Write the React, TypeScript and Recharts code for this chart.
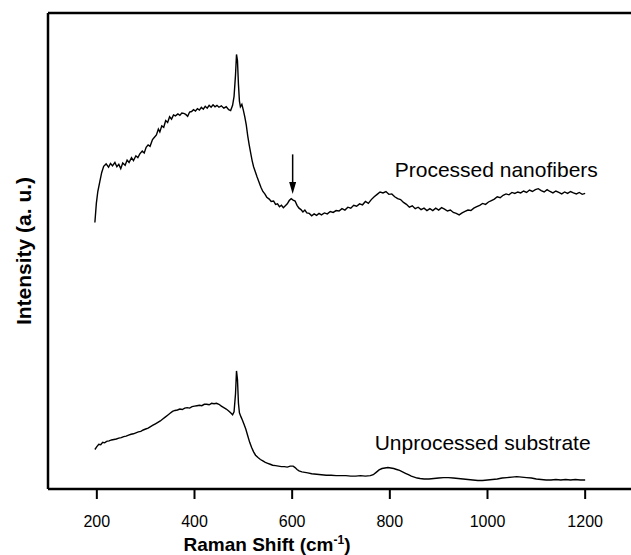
import { LineChart, Line, XAxis, YAxis, ReferenceLine, ReferenceDot, Label } from "recharts";

// Raman shift (cm^-1) and intensity (a.u., 0-100 scale)
const processedShift = [
  196, 199, 202, 206, 210, 214, 219, 224, 228, 232, 237, 241, 245, 249, 253, 258, 262, 266, 271, 275,
  280, 284, 288, 293, 297, 301, 305, 309, 314, 318, 322, 326, 329, 333, 337, 341, 345, 349, 353, 357,
  361, 366, 370, 374, 378, 382, 386, 390, 394, 398, 402, 406, 410, 414, 418, 422, 426, 430, 434, 438,
  442, 446, 450, 455, 460, 465, 470, 474, 478, 481, 484, 486, 488, 490, 492, 494, 497, 500, 503, 506,
  509, 512, 515, 518, 521, 524, 528, 532, 536, 540, 544, 548, 553, 557, 562, 566, 570, 574, 578, 582,
  586, 590, 594, 598, 602, 606, 610, 614, 618, 622, 626, 630, 635, 640, 645, 650, 655, 660, 666, 672,
  678, 684, 690, 696, 702, 708, 714, 720, 726, 732, 738, 744, 750, 756, 762, 768, 774, 780, 786, 792,
  798, 804, 810, 816, 822, 828, 834, 840, 846, 852, 858, 864, 870, 876, 882, 888, 894, 900, 906, 912,
  918, 924, 930, 936, 942, 948, 954, 960, 966, 972, 978, 984, 990, 996, 1002, 1008, 1014, 1020, 1026, 1032,
  1038, 1044, 1050, 1056, 1062, 1068, 1074, 1080, 1086, 1092, 1098, 1104, 1110, 1116, 1122, 1128, 1134, 1140, 1146, 1152,
  1158, 1164, 1170, 1176, 1182, 1188, 1194, 1200,
];
const processedIntensity = [
  56, 60, 62.5, 64.5, 66.5, 67.8, 68.3, 67.6, 68.4, 67.9, 68.6, 67.7, 68.2, 67.3, 68.5, 68.0, 69.1, 68.6, 69.6, 69.0,
  70.0, 69.6, 70.4, 71.0, 70.6, 71.8, 72.3, 72.0, 73.4, 73.9, 74.4, 75.6, 75.0, 76.3, 76.0, 77.4, 77.0, 78.2, 77.7, 78.6,
  78.4, 78.8, 78.5, 79.0, 78.9, 78.7, 78.3, 79.2, 79.3, 79.7, 79.4, 79.9, 79.6, 80.2, 79.8, 80.4, 80.0, 80.6, 80.2, 80.7,
  80.3, 80.6, 80.2, 80.5, 80.0, 80.3, 79.7, 79.5, 80.6, 82.5, 87, 91.3, 90, 85, 81.5, 80.3, 80.8, 79.6, 78.2, 76.5,
  74.2, 72.3, 70.6, 69.0, 67.7, 66.8, 65.6, 64.5, 63.4, 62.5, 62.0, 61.3, 60.9, 60.4, 60.5, 59.8, 59.9, 59.3, 59.6, 59.1,
  59.5, 59.9, 60.6, 61.0, 60.7, 60.5, 59.6, 59.0, 58.7, 58.2, 58.6, 58.0, 57.9, 57.4, 57.8, 57.5, 57.9, 57.6, 58.0, 57.8,
  58.3, 58.1, 58.5, 58.4, 58.9, 58.6, 59.2, 59.0, 59.6, 59.4, 59.9, 59.7, 60.4, 60.0, 60.8, 61.4, 61.9, 62.4, 62.2, 62.5,
  61.9, 62.0, 61.4, 61.0, 60.8, 60.2, 59.8, 59.2, 59.5, 58.9, 59.2, 58.7, 59.0, 58.5, 58.9, 58.5, 59.0, 58.6, 59.1, 58.8,
  58.4, 58.6, 58.1, 57.9, 57.6, 58.0, 58.3, 58.6, 58.5, 59.0, 59.3, 59.6, 60.0, 59.8, 60.3, 60.6, 60.9, 61.4, 61.2, 61.7,
  62.0, 61.8, 62.3, 62.1, 62.4, 62.2, 62.6, 62.3, 62.8, 62.5, 62.9, 63.1, 62.7, 62.4, 62.9, 62.5, 62.2, 62.6, 62.3, 62.0,
  62.4, 62.1, 62.5, 62.2, 62.0, 62.3, 61.9, 62.1,
];

const unprocessedShift = [
  196, 200, 204, 208, 212, 216, 220, 225, 230, 235, 240, 245, 250, 255, 260, 265, 270, 275, 280, 285,
  290, 295, 300, 305, 310, 315, 320, 325, 330, 335, 340, 345, 350, 355, 360, 365, 370, 375, 380, 385,
  390, 395, 400, 405, 410, 415, 420, 425, 430, 435, 440, 445, 450, 455, 460, 465, 470, 474, 478, 481,
  484, 486, 488, 490, 492, 495, 498, 501, 505, 509, 513, 517, 521, 525, 530, 535, 540, 545, 550, 555,
  560, 566, 572, 578, 584, 590, 596, 602, 606, 610, 614, 620, 626, 632, 640, 650, 660, 670, 680, 690,
  700, 710, 720, 730, 740, 750, 760, 766, 772, 778, 784, 790, 796, 802, 808, 814, 820, 826, 832, 838,
  844, 850, 856, 862, 870, 880, 890, 900, 910, 920, 930, 940, 950, 960, 970, 980, 990, 1000, 1010, 1020,
  1030, 1040, 1050, 1060, 1070, 1080, 1090, 1100, 1110, 1120, 1130, 1140, 1150, 1160, 1170, 1180, 1190, 1200,
];
const unprocessedIntensity = [
  8.3, 8.9, 9.4, 9.3, 9.8, 9.7, 10.0, 10.1, 10.3, 10.4, 10.5, 10.7, 10.8, 11.0, 11.1, 11.3, 11.5, 11.6, 11.8, 12.0,
  12.1, 12.4, 12.6, 12.8, 13.1, 13.4, 13.7, 14.0, 14.3, 14.7, 15.1, 15.5, 15.9, 16.3, 16.5, 16.6, 16.8, 16.7, 17.0, 17.1,
  17.0, 17.3, 17.4, 17.5, 17.6, 17.5, 17.8, 17.8, 17.7, 18.0, 17.9, 18.0, 17.8, 17.4, 17.1, 16.8, 16.4, 16.0, 15.6, 16.2,
  20, 24.8, 23, 18, 16.0, 15.2, 14.5, 13.7, 12.6, 11.2, 9.8, 8.7, 7.8, 7.1, 6.6, 6.2, 5.9, 5.6, 5.4, 5.2,
  5.0, 4.9, 4.8, 4.7, 4.7, 4.6, 4.8, 4.8, 4.5, 4.1, 3.8, 3.6, 3.5, 3.4, 3.2, 3.1, 3.0, 2.9, 2.9, 2.8,
  2.8, 2.8, 2.7, 2.7, 2.8, 2.7, 2.8, 3.0, 3.5, 4.0, 4.3, 4.4, 4.5, 4.4, 4.3, 4.1, 3.9, 3.6, 3.3, 3.0,
  2.7, 2.5, 2.3, 2.2, 2.1, 2.1, 2.2, 2.3, 2.4, 2.4, 2.3, 2.2, 2.1, 2.0, 1.9, 1.8, 1.8, 1.9, 2.0, 2.1,
  2.3, 2.4, 2.5, 2.6, 2.5, 2.4, 2.3, 2.1, 2.0, 1.9, 1.9, 2.0, 1.9, 2.0, 1.9, 2.0, 1.9, 1.9,
];

const xTicks = [200, 400, 600, 800, 1000, 1200];

const processedData = processedShift.map((x, i) => ({ x, y: processedIntensity[i] }));
const unprocessedData = unprocessedShift.map((x, i) => ({ x, y: unprocessedIntensity[i] }));

const FONT = '"Liberation Sans", Arial, Helvetica, sans-serif';

const Arrow = (props: any) => {
  const { x1, y1, x2, y2 } = props;
  return (
    <g>
      <line x1={x1} y1={y1} x2={x2} y2={y2 - 10} stroke="#000" strokeWidth={1.5} />
      <polygon points={`${x2 - 3.5},${y2 - 12} ${x2 + 3.5},${y2 - 12} ${x2},${y2}`} fill="#000" />
    </g>
  );
};

const textAt = (value: string) => (props: any) => (
  <text x={props.cx} y={props.cy} fontSize={21} fontFamily={FONT} fill="#000">
    {value}
  </text>
);

export default function App() {
  return (
    <div style={{ position: "absolute", left: 0, top: 0, width: 631, height: 555, overflow: "hidden", background: "#fff" }}>
      <LineChart width={634} height={555} margin={{ top: 13, right: 0, left: 46, bottom: 0 }}>
        <XAxis
          type="number"
          dataKey="x"
          domain={[100, 1300]}
          ticks={xTicks}
          allowDataOverflow
          height={66}
          tickSize={10}
          tickMargin={17}
          axisLine={{ stroke: "#000", strokeWidth: 2.5 }}
          tickLine={{ stroke: "#000", strokeWidth: 2 }}
          tick={{ fill: "#000", fontSize: 16, fontFamily: FONT }}
        >
          <Label
            content={({ viewBox }: any) => (
              <text x={viewBox.x + 219} y={viewBox.y + 62} textAnchor="middle" fontSize={19} fontWeight="bold" fontFamily={FONT} fill="#000">
                Raman Shift (cm
                <tspan dy={-7} fontSize={12}>-1</tspan>
                <tspan dy={7}>)</tspan>
              </text>
            )}
          />
        </XAxis>
        <YAxis
          type="number"
          domain={[0, 100]}
          width={2}
          tick={false}
          tickLine={false}
          axisLine={{ stroke: "#000", strokeWidth: 2.5 }}
        >
          <Label
            content={({ viewBox }: any) => {
              const cx = 31;
              const cy = viewBox.y + viewBox.height / 2;
              return (
                <text x={cx} y={cy} transform={`rotate(-90 ${cx} ${cy})`} textAnchor="middle" fontSize={21} fontWeight="bold" fontFamily={FONT} fill="#000">
                  Intensity (a. u.)
                </text>
              );
            }}
          />
        </YAxis>
        <ReferenceLine y={100} stroke="#000" strokeWidth={2.5} />
        <Line data={processedData} dataKey="y" type="linear" stroke="#000" strokeWidth={1.4} dot={false} isAnimationActive={false} />
        <Line data={unprocessedData} dataKey="y" type="linear" stroke="#000" strokeWidth={1.4} dot={false} isAnimationActive={false} />
        <ReferenceLine segment={[{ x: 601, y: 70.3 }, { x: 601, y: 62 }]} shape={Arrow} />
        <ReferenceDot x={810} y={65.5} r={0} shape={textAt("Processed nanofibers")} />
        <ReferenceDot x={769} y={8.2} r={0} shape={textAt("Unprocessed substrate")} />
      </LineChart>
    </div>
  );
}
